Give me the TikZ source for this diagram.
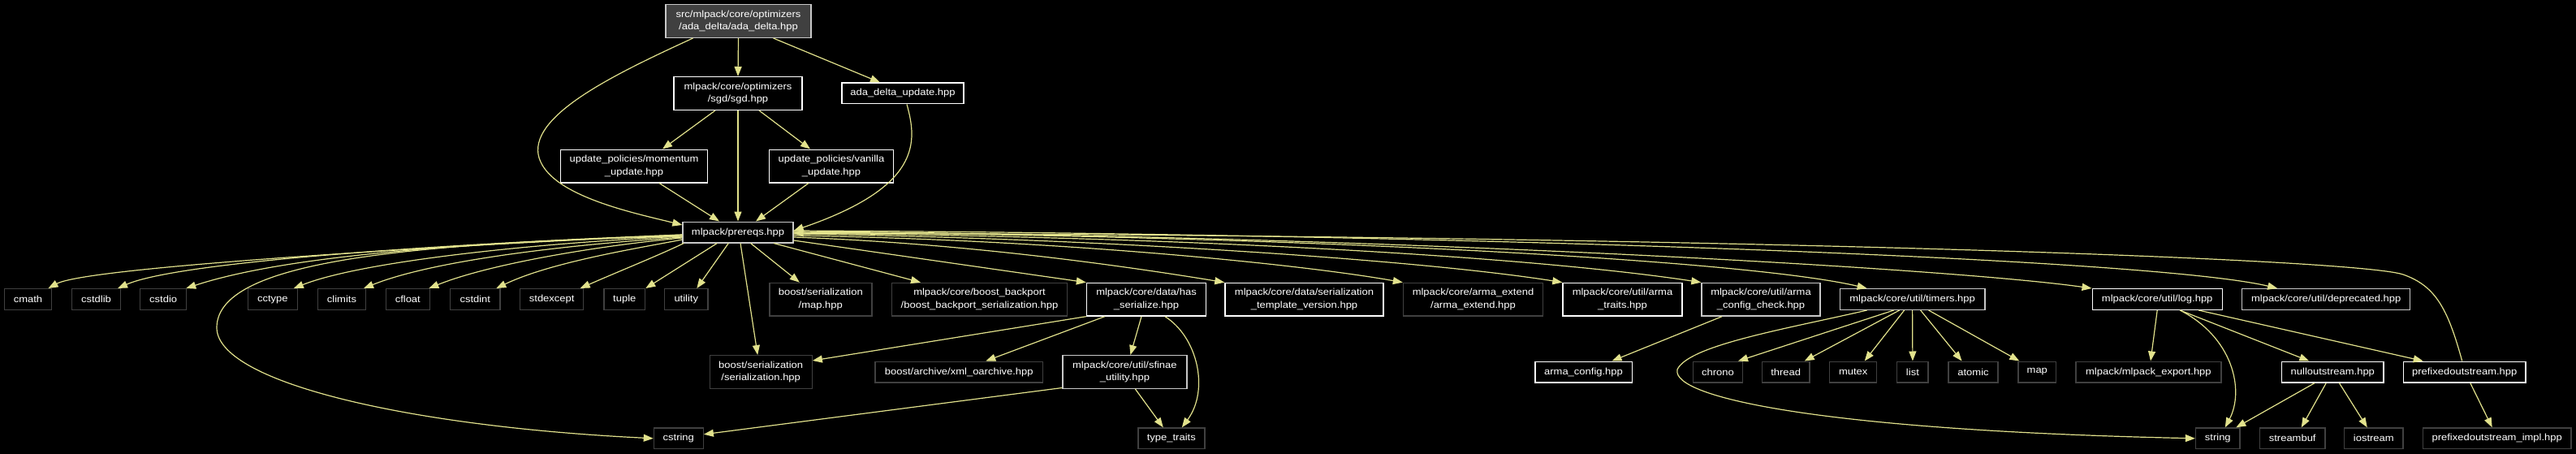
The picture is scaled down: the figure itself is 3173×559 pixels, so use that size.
\documentclass[tikz,border=0pt]{standalone}
\usepackage{fontspec}
\setmainfont{Liberation Sans}[FakeStretch=1.12]
\usetikzlibrary{arrows.meta}
\definecolor{edgecol}{RGB}{226,226,140}
\definecolor{darkb}{RGB}{64,64,64}
\definecolor{lightb}{RGB}{200,200,200}
\definecolor{rootfill}{RGB}{64,64,64}
\definecolor{baseline}{RGB}{90,90,90}
\begin{document}
\begin{tikzpicture}[x=1pt,y=-1pt,
  nbox/.style={draw, line width=1.4pt, text=white, inner sep=0pt, align=center,
    font=\fontsize{11.6}{15.5}\selectfont, minimum height=25.6pt},
  wbox/.style={nbox, draw=white},
  lbox/.style={nbox, draw=lightb},
  dbox/.style={nbox, draw=darkb},
  tall/.style={minimum height=40.6pt},
  dep/.style={draw=edgecol, line width=1.2pt, -{Triangle[length=12pt,width=9pt]}},
]
\fill[black] (0,0) rectangle (3173,559);
\useasboundingbox (0,0) rectangle (3173,559);
\draw[baseline, line width=2pt] (0,557.5) -- (3173,557.5);

% top part
\node[lbox,tall,fill=rootfill,minimum width=179pt] (root) at (909.5,26) {src/mlpack/core/optimizers\\/ada\_delta/ada\_delta.hpp};
\node[wbox,tall,minimum width=158pt] (sgd) at (909,115) {mlpack/core/optimizers\\/sgd/sgd.hpp};
\node[wbox,minimum width=150pt] (adu) at (1112,115) {ada\_delta\_update.hpp};
\node[wbox,tall,minimum width=181pt] (mom) at (781,204.5) {update\_policies/momentum\\\_update.hpp};
\node[wbox,tall,minimum width=153pt] (van) at (1024,204.5) {update\_policies/vanilla\\\_update.hpp};
\node[lbox,minimum width=136pt] (pre) at (909,286) {mlpack/prereqs.hpp};

% row 1
\node[dbox,minimum width=58.5pt] (cmath) at (34.5,368.5) {cmath};
\node[dbox,minimum width=60pt] (cstdlib) at (118.5,368.5) {cstdlib};
\node[dbox,minimum width=57pt] (cstdio) at (201.2,368.5) {cstdio};
\node[dbox,minimum width=61pt] (cctype) at (335.8,368.5) {cctype};
\node[dbox,minimum width=59pt] (climits) at (421,368.5) {climits};
\node[dbox,minimum width=54pt] (cfloat) at (502.3,368.5) {cfloat};
\node[dbox,minimum width=61.5pt] (cstdint) at (585.3,368.5) {cstdint};
\node[dbox,minimum width=78pt] (stdexcept) at (679.7,368.5) {stdexcept};
\node[dbox,minimum width=50.5pt] (tuple) at (769.3,368.5) {tuple};
\node[dbox,minimum width=53.4pt] (utility) at (845.3,368.5) {utility};
\node[dbox,tall,minimum width=126pt] (smap) at (1010.8,368.7) {boost/serialization\\/map.hpp};
\node[dbox,tall,minimum width=216pt] (bbs) at (1206.5,368.7) {mlpack/core/boost\_backport\\/boost\_backport\_serialization.hpp};
\node[wbox,tall,minimum width=147pt] (has) at (1412,368.7) {mlpack/core/data/has\\\_serialize.hpp};
\node[wbox,tall,minimum width=195pt] (stv) at (1606.5,368.7) {mlpack/core/data/serialization\\\_template\_version.hpp};
\node[dbox,tall,minimum width=172pt] (ae) at (1814.5,368.7) {mlpack/core/arma\_extend\\/arma\_extend.hpp};
\node[wbox,tall,minimum width=147pt] (atr) at (1998.5,368.7) {mlpack/core/util/arma\\\_traits.hpp};
\node[lbox,tall,minimum width=146pt] (acc) at (2169,368.7) {mlpack/core/util/arma\\\_config\_check.hpp};
\node[lbox,minimum width=178.6pt] (timers) at (2355.6,368.5) {mlpack/core/util/timers.hpp};
\node[wbox,minimum width=160pt] (log) at (2657.2,368.5) {mlpack/core/util/log.hpp};
\node[lbox,minimum width=207pt] (depr) at (2865.2,368.5) {mlpack/core/util/deprecated.hpp};

% row 2
\node[dbox,tall,minimum width=126pt] (ser) at (937.2,458) {boost/serialization\\/serialization.hpp};
\node[dbox,minimum width=206.6pt] (xml) at (1181.3,458) {boost/archive/xml\_oarchive.hpp};
\node[lbox,tall,minimum width=153pt] (sfin) at (1385.4,458) {mlpack/core/util/sfinae\\\_utility.hpp};
\node[wbox,minimum width=119.4pt] (ac) at (1950.5,458) {arma\_config.hpp};
\node[dbox,minimum width=60.7pt] (chrono) at (2116,458) {chrono};
\node[dbox,minimum width=58.6pt] (thread) at (2199.7,458) {thread};
\node[dbox,minimum width=58pt] (mutex) at (2282.7,458) {mutex};
\node[dbox,minimum width=38.3pt] (list) at (2355.9,458) {list};
\node[dbox,minimum width=61pt] (atomic) at (2430.5,458) {atomic};
\node[dbox,minimum width=46.5pt] (map) at (2509.3,458) {map};
\node[dbox,minimum width=178.8pt] (exp) at (2646.4,458) {mlpack/mlpack\_export.hpp};
\node[wbox,minimum width=125.5pt] (nout) at (2873.3,458) {nulloutstream.hpp};
\node[wbox,minimum width=150.6pt] (po) at (3035.7,458) {prefixedoutstream.hpp};

% row 3
\node[dbox,minimum width=60.8pt] (cstring) at (835.8,539.8) {cstring};
\node[dbox,minimum width=82pt] (tt) at (1442.8,539.8) {type\_traits};
\node[dbox,minimum width=54.5pt] (str) at (2731.8,539.8) {string};
\node[dbox,minimum width=80.7pt] (sbuf) at (2823.7,539.8) {streambuf};
\node[dbox,minimum width=72.5pt] (ios) at (2923.8,539.8) {iostream};
\node[dbox,minimum width=182.6pt] (poi) at (3075.7,539.8) {prefixedoutstream\_impl.hpp};

% edges: top
\draw[dep] (root.south) -- (sgd.north);
\draw[dep] ([xshift=43pt]root.south) -- ([xshift=-28pt]adu.north);
\draw[dep] ([xshift=-56pt]root.south) .. controls (760,90) and (655,140) .. (663,190)
  .. controls (672,240) and (780,262) .. ([yshift=9pt]pre.west);
\draw[dep] ([xshift=-28pt]sgd.south) -- ([xshift=35pt]mom.north);
\draw[dep] ([xshift=26pt]sgd.south) -- ([xshift=-26pt]van.north);
\draw[dep] (sgd.south) -- (pre.north);
\draw[dep] ([xshift=31pt]mom.south) -- ([xshift=-23pt]pre.north);
\draw[dep] ([xshift=-28pt]van.south) -- ([xshift=22pt]pre.north);
\draw[dep] ([xshift=5pt]adu.south) .. controls (1130,175) and (1135,230) .. ([yshift=2pt]pre.east);

% prereqs left fan
\draw[dep] ([yshift=-3pt]pre.west) .. controls (500,305) and (105,330) .. ([xshift=25pt]cmath.north);
\draw[dep] ([yshift=-3pt]pre.west) .. controls (550,300) and (220,322) .. ([xshift=26.5pt]cstdlib.north);
\draw[dep] ([yshift=-4pt]pre.west) .. controls (600,298) and (360,312) .. ([xshift=28pt]cstdio.north);
\draw[dep] ([yshift=-5pt]pre.west) .. controls (680,298) and (450,320) .. ([xshift=26pt]cctype.north);
\draw[dep] ([yshift=-6pt]pre.west) .. controls (720,300) and (540,318) .. ([xshift=27pt]climits.north);
\draw[dep] ([yshift=-7pt]pre.west) .. controls (760,300) and (610,322) .. ([xshift=26pt]cfloat.north);
\draw[dep] ([yshift=-9pt]pre.west) .. controls (790,305) and (680,322) .. ([xshift=26pt]cstdint.north);
\draw[dep] ([xshift=2pt]pre.south west) .. controls (810,315) and (760,335) .. ([xshift=35pt]stdexcept.north);
\draw[dep] ([xshift=43pt]pre.south west) -- ([xshift=26pt]tuple.north);
\draw[dep] ([xshift=57pt]pre.south west) -- ([xshift=13pt]utility.north);
\draw[dep] ([yshift=-5pt]pre.west) .. controls (450,300) and (268,330) .. (267,403)
  .. controls (266,470) and (500,525) .. (cstring.west);

% prereqs centre and right fan
\draw[dep] ([xshift=15.6pt]pre.south) -- ([xshift=-26pt]smap.north);
\draw[dep] ([xshift=44pt]pre.south) -- ([xshift=-72.5pt]bbs.north);
\draw[dep] ([yshift=-10pt]pre.east) -- (has.north west);
\draw[dep] ([yshift=-6pt]pre.east) .. controls (1200,300) and (1400,330) .. (stv.north west);
\draw[dep] ([yshift=-4pt]pre.east) .. controls (1300,295) and (1600,325) .. (ae.north west);
\draw[dep] ([yshift=-2pt]pre.east) .. controls (1350,293) and (1750,320) .. (atr.north west);
\draw[dep] ([yshift=-1pt]pre.east) .. controls (1500,292) and (1900,318) .. (acc.north west);
\draw[dep] ([yshift=0pt]pre.east) .. controls (1600,290) and (2150,320) .. ([xshift=-56pt]timers.north);
\draw[dep] ([yshift=1pt]pre.east) .. controls (1700,290) and (2400,330) .. (log.north west);
\draw[dep] ([yshift=2pt]pre.east) .. controls (1800,288) and (2650,318) .. ([xshift=-60pt]depr.north);
\draw[dep] ([xshift=3pt]pre.south) -- ([xshift=-4pt]ser.north);

% has_serialize / sfinae
\draw[dep] (has.south west) -- ([yshift=-7pt]ser.north east);
\draw[dep] ([xshift=23pt]has.south west) -- ([xshift=33pt]xml.north);
\draw[dep] ([xshift=-6pt]has.south) -- ([xshift=7pt]sfin.north);
\draw[dep] ([xshift=23pt]has.south) .. controls (1475,415) and (1490,480) .. ([xshift=13pt]tt.north);
\draw[dep] ([xshift=13pt]sfin.south) -- ([xshift=-10pt]tt.north);
\draw[dep] ([yshift=1.5pt]sfin.south west) -- ([yshift=5pt]cstring.east);

% arma config
\draw[dep] ([xshift=-48pt]acc.south) -- ([xshift=35pt]ac.north);

% timers
\draw[dep] ([xshift=-23pt]timers.south) -- ([xshift=25pt]chrono.north);
\draw[dep] ([xshift=-16pt]timers.south) -- ([xshift=23pt]thread.north);
\draw[dep] ([xshift=-10pt]timers.south) -- ([xshift=14pt]mutex.north);
\draw[dep] (timers.south) -- (list.north);
\draw[dep] ([xshift=10pt]timers.south) -- ([xshift=-14pt]atomic.north);
\draw[dep] ([xshift=20pt]timers.south) -- ([xshift=-22pt]map.north);
\draw[dep] ([xshift=-56pt]timers.south) .. controls (2200,405) and (2080,425) .. (2066,455)
  .. controls (2058,490) and (2250,530) .. (str.west);

% log
\draw[dep] (log.south) -- ([xshift=2.6pt]exp.north);
\draw[dep] ([xshift=28pt]log.south) .. controls (2750,415) and (2765,480) .. ([xshift=9pt]str.north);
\draw[dep] ([xshift=28pt]log.south) -- ([xshift=-29pt]nout.north);
\draw[dep] ([xshift=51pt]log.south) -- ([xshift=-51pt]po.north);

% nulloutstream / prefixedoutstream
\draw[dep] ([xshift=-22pt]nout.south) -- ([xshift=22.5pt]str.north);
\draw[dep] ([xshift=-8pt]nout.south) -- ([xshift=11pt]sbuf.north);
\draw[dep] ([xshift=8pt]nout.south) -- ([xshift=-8pt]ios.north);
\draw[dep] ([xshift=7pt]po.south) -- ([xshift=-6pt]poi.north);
\draw[dep] ([xshift=-3pt]po.north) .. controls (3015,380) and (3000,352) .. (2960,338)
  .. controls (2900,318) and (2100,290) .. ([yshift=-1pt]pre.east);
\end{tikzpicture}
\end{document}
